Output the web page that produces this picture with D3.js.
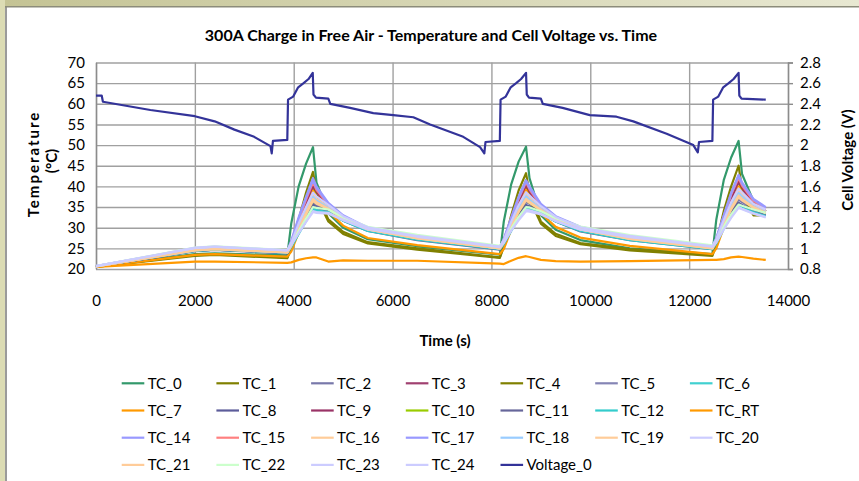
<html>
<head>
<script src="https://cdn.jsdelivr.net/npm/d3@7"></script>
<style>
  body { margin: 0; background: #fff; }
  svg text { font-family: Lato, "Open Sans", sans-serif; fill: #000; }
</style>
</head>
<body>
<svg id="chart" width="859" height="481"></svg>
<script>
// ---- data ----
const seriesNames = ["TC_0", "TC_1", "TC_2", "TC_3", "TC_4", "TC_5", "TC_6",
  "TC_7", "TC_8", "TC_9", "TC_10", "TC_11", "TC_12", "TC_RT",
  "TC_14", "TC_15", "TC_16", "TC_17", "TC_18", "TC_19", "TC_20",
  "TC_21", "TC_22", "TC_23", "TC_24"];
const seriesColors = ["#33996b", "#808000", "#7878aa", "#a04070", "#808000", "#8585b5", "#40d0d0",
  "#ff9900", "#5c5c9a", "#993366", "#99cc00", "#66669a", "#33cccc", "#ff9900",
  "#9999ff", "#ff8080", "#ffcc99", "#9999ff", "#99ccff", "#ffcc99", "#ccccff",
  "#ffcc99", "#ccffcc", "#ccccff", "#ccccff"];

// time (s) for the thermocouple readings
const tempTimes = [0, 2000, 2400, 3870, 3950, 4100, 4250, 4390, 4460, 4700, 5000, 5500, 6500, 8170,
  8250, 8400, 8550, 8700, 8770, 9000, 9300, 9800, 10800, 12470,
  12550, 12700, 12850, 13000, 13070, 13300, 13550];

const TC_0  = [20.6, 23.6, 23.8, 23.3, 31.0, 40.0, 45.5, 49.5, 41.0, 33.5, 30.0, 27.2, 25.5, 23.5, 31.5, 40.5, 46.0, 49.6, 42.0, 33.0, 29.5, 27.0, 25.0, 23.6, 32.0, 41.5, 47.0, 51.0, 43.0, 36.5, 34.0];
const TC_1  = [20.5, 23.4, 23.6, 22.8, 25.5, 32.0, 38.5, 43.5, 38.5, 32.0, 29.0, 26.5, 25.0, 22.8, 25.8, 33.0, 39.0, 43.2, 38.5, 31.5, 28.5, 26.3, 24.8, 23.4, 26.5, 34.0, 40.0, 45.0, 39.5, 33.5, 33.5];
const TC_2  = [20.6, 24.5, 24.8, 24.0, 25.8, 29.5, 33.0, 36.0, 35.5, 34.5, 32.0, 29.5, 27.3, 24.9, 26.5, 30.0, 33.5, 36.2, 35.8, 34.0, 32.0, 29.5, 27.3, 25.0, 26.8, 30.5, 34.0, 36.8, 36.2, 34.5, 33.5];
const TC_3  = [20.6, 24.6, 24.9, 24.1, 26.2, 31.0, 35.5, 40.0, 38.5, 35.5, 32.5, 29.8, 27.5, 25.0, 26.8, 31.5, 36.0, 40.0, 38.5, 35.0, 32.3, 29.8, 27.4, 25.1, 27.0, 32.0, 37.0, 41.0, 39.5, 36.0, 34.0];
const TC_4  = [20.5, 23.2, 23.4, 22.6, 25.0, 30.5, 36.5, 41.5, 37.5, 31.5, 28.5, 26.2, 24.7, 22.7, 25.3, 31.5, 37.0, 41.5, 37.0, 31.0, 28.0, 26.0, 24.5, 23.2, 25.8, 32.5, 38.0, 42.5, 38.0, 33.0, 33.0];
const TC_5  = [20.6, 24.6, 24.9, 24.0, 25.8, 29.8, 33.5, 37.0, 36.2, 34.8, 32.2, 29.6, 27.4, 25.0, 26.5, 30.5, 34.0, 37.2, 36.5, 34.2, 32.0, 29.6, 27.3, 25.0, 26.8, 31.0, 34.8, 38.0, 37.0, 34.8, 33.8];
const TC_6  = [20.6, 24.4, 24.7, 23.9, 25.5, 29.0, 32.0, 35.0, 34.6, 34.0, 31.8, 29.3, 27.2, 24.8, 26.2, 29.5, 32.5, 35.0, 34.8, 33.5, 31.6, 29.2, 27.1, 24.9, 26.5, 30.0, 33.0, 35.5, 35.0, 34.0, 33.0];
const TC_7  = [20.5, 23.4, 23.6, 23.0, 24.2, 28.8, 34.0, 39.0, 37.5, 34.0, 30.5, 27.5, 25.8, 23.6, 24.8, 29.5, 34.5, 39.2, 37.5, 33.5, 30.2, 27.6, 25.6, 23.6, 25.0, 30.0, 35.5, 40.0, 38.5, 35.0, 34.0];
const TC_8  = [20.6, 24.4, 24.7, 23.9, 25.5, 29.2, 32.5, 35.5, 35.0, 34.2, 31.9, 29.4, 27.2, 24.8, 26.3, 29.8, 33.0, 35.5, 35.2, 33.8, 31.7, 29.3, 27.1, 24.9, 26.5, 30.3, 33.5, 36.0, 35.5, 34.2, 33.3];
const TC_9  = [20.6, 24.5, 24.8, 24.0, 26.0, 31.0, 36.0, 40.5, 38.8, 35.5, 32.5, 29.7, 27.4, 25.0, 26.8, 31.5, 36.5, 40.5, 38.8, 35.0, 32.2, 29.7, 27.3, 25.0, 27.0, 32.0, 37.0, 41.5, 39.8, 36.0, 34.0];
const TC_10 = [20.6, 24.6, 24.9, 24.1, 25.8, 29.5, 33.3, 36.5, 35.9, 34.6, 32.2, 29.6, 27.4, 25.0, 26.5, 30.2, 33.8, 36.7, 36.0, 34.2, 32.0, 29.6, 27.3, 25.1, 26.8, 30.8, 34.5, 37.5, 36.8, 34.8, 33.6];
const TC_11 = [20.6, 24.3, 24.6, 23.8, 25.4, 28.8, 32.0, 35.2, 34.8, 34.0, 31.7, 29.2, 27.0, 24.7, 26.1, 29.5, 32.6, 35.3, 35.0, 33.6, 31.5, 29.1, 27.0, 24.8, 26.4, 30.0, 33.2, 36.0, 35.4, 34.0, 33.0];
const TC_12 = [20.6, 24.4, 24.7, 23.9, 25.3, 28.5, 31.6, 34.5, 34.2, 33.8, 31.7, 29.2, 27.1, 24.8, 26.0, 29.2, 32.2, 34.7, 34.5, 33.5, 31.5, 29.2, 27.0, 24.8, 26.2, 29.7, 32.8, 35.2, 34.8, 33.8, 32.8];
const TC_RT = [20.5, 21.8, 21.8, 21.5, 21.6, 22.2, 22.6, 22.8, 22.8, 21.8, 22.1, 22.0, 22.0, 21.3, 21.2, 22.0, 22.7, 23.1, 22.9, 22.2, 21.9, 21.8, 21.9, 22.2, 22.2, 22.4, 22.8, 23.0, 22.9, 22.5, 22.2];
const TC_14 = [20.7, 25.0, 25.3, 24.4, 26.8, 32.5, 37.5, 42.0, 40.0, 36.0, 33.0, 30.0, 27.9, 25.3, 27.3, 32.5, 37.5, 41.5, 40.0, 35.8, 32.8, 30.2, 27.9, 25.5, 27.5, 33.0, 38.5, 42.8, 41.0, 37.0, 35.0];
const TC_15 = [20.6, 24.7, 25.0, 24.2, 26.4, 31.8, 36.8, 41.0, 39.2, 35.6, 32.6, 29.8, 27.6, 25.1, 27.0, 32.0, 37.0, 41.0, 39.3, 35.3, 32.4, 29.8, 27.6, 25.3, 27.2, 32.5, 38.0, 42.0, 40.2, 36.5, 34.6];
const TC_16 = [20.6, 24.6, 24.9, 24.1, 25.9, 30.2, 34.5, 38.0, 37.0, 35.0, 32.3, 29.7, 27.5, 25.0, 26.6, 30.8, 35.0, 38.2, 37.2, 34.6, 32.1, 29.7, 27.4, 25.1, 26.9, 31.3, 35.8, 39.0, 38.0, 35.4, 34.0];
const TC_17 = [20.7, 24.9, 25.2, 24.3, 26.6, 32.2, 37.2, 41.5, 39.6, 35.8, 32.8, 30.0, 27.8, 25.2, 27.2, 32.2, 37.2, 41.3, 39.6, 35.6, 32.6, 30.0, 27.8, 25.4, 27.4, 32.8, 38.2, 42.5, 40.6, 36.8, 34.8];
const TC_18 = [20.6, 24.6, 24.9, 24.0, 25.8, 30.0, 34.0, 37.5, 36.6, 34.8, 32.3, 29.7, 27.5, 25.0, 26.5, 30.6, 34.5, 37.6, 36.8, 34.5, 32.1, 29.7, 27.4, 25.1, 26.8, 31.0, 35.2, 38.4, 37.6, 35.2, 33.8];
const TC_19 = [20.6, 24.5, 24.8, 24.0, 25.7, 29.8, 33.6, 37.0, 36.2, 34.6, 32.2, 29.6, 27.4, 25.0, 26.4, 30.4, 34.0, 37.0, 36.3, 34.3, 32.0, 29.6, 27.3, 25.0, 26.7, 30.8, 34.8, 37.8, 37.0, 35.0, 33.6];
const TC_20 = [20.7, 25.0, 25.3, 24.4, 25.8, 28.8, 31.6, 34.0, 33.8, 33.6, 31.8, 29.5, 27.6, 25.2, 26.4, 29.4, 32.0, 34.3, 34.2, 33.4, 31.6, 29.5, 27.6, 25.3, 26.5, 29.8, 32.6, 35.0, 34.6, 33.5, 32.6];
const TC_21 = [20.6, 24.5, 24.8, 24.0, 25.6, 29.5, 33.2, 36.5, 35.8, 34.5, 32.1, 29.6, 27.4, 25.0, 26.4, 30.2, 33.8, 36.6, 36.0, 34.2, 32.0, 29.6, 27.3, 25.0, 26.6, 30.6, 34.4, 37.4, 36.6, 34.8, 33.5];
const TC_22 = [20.7, 25.2, 25.5, 24.6, 26.0, 29.2, 32.2, 35.0, 34.8, 34.4, 32.5, 30.2, 28.3, 25.6, 26.8, 29.8, 32.6, 35.0, 34.9, 34.0, 32.3, 30.3, 28.2, 25.7, 27.0, 30.3, 33.2, 35.6, 35.3, 34.4, 33.6];
const TC_23 = [20.7, 25.1, 25.4, 24.5, 26.4, 31.0, 35.0, 38.5, 37.6, 35.5, 32.8, 30.1, 28.0, 25.4, 27.0, 31.4, 35.5, 38.6, 37.8, 35.2, 32.6, 30.1, 28.0, 25.5, 27.2, 31.8, 36.2, 39.5, 38.6, 35.8, 34.4];
const TC_24 = [20.7, 25.1, 25.4, 24.5, 25.8, 28.7, 31.4, 33.8, 33.6, 33.4, 31.9, 29.7, 27.8, 25.3, 26.4, 29.3, 31.8, 34.0, 33.9, 33.2, 31.7, 29.6, 27.7, 25.4, 26.5, 29.6, 32.4, 34.8, 34.5, 33.4, 32.5];

const tempSeries = [TC_0, TC_1, TC_2, TC_3, TC_4, TC_5, TC_6, TC_7, TC_8, TC_9, TC_10, TC_11, TC_12, TC_RT,
  TC_14, TC_15, TC_16, TC_17, TC_18, TC_19, TC_20, TC_21, TC_22, TC_23, TC_24];

// cell voltage, right axis
const voltTimes = [0, 115, 140, 1100, 2000, 2400, 2800, 3200, 3530, 3555, 3580, 3870, 3885, 3990, 4090, 4200, 4300, 4385,
  4400, 4450, 4700, 4740, 5140, 5610, 6015, 6420, 6760, 7430, 7770, 7856, 7880, 8170, 8185, 8290, 8390, 8500, 8600, 8700,
  8715, 8760, 9000, 9040, 9440, 9990, 10530, 10870, 11545, 12084, 12175, 12200, 12470, 12485, 12590, 12690, 12800, 12900, 13000,
  13015, 13060, 13550];
const voltValues = [2.48, 2.48, 2.42, 2.34, 2.28, 2.23, 2.15, 2.08, 1.99, 1.92, 2.04, 2.05, 2.44, 2.47, 2.56, 2.60, 2.64, 2.70,
  2.49, 2.46, 2.45, 2.40, 2.36, 2.31, 2.29, 2.27, 2.20, 2.08, 1.98, 1.92, 2.03, 2.04, 2.44, 2.47, 2.56, 2.60, 2.64, 2.70,
  2.49, 2.46, 2.45, 2.40, 2.36, 2.29, 2.275, 2.23, 2.11, 2.00, 1.93, 2.03, 2.04, 2.44, 2.47, 2.56, 2.60, 2.64, 2.70,
  2.48, 2.45, 2.44];

const xTicks = [0, 2000, 4000, 6000, 8000, 10000, 12000, 14000];
const tempTicks = [20, 25, 30, 35, 40, 45, 50, 55, 60, 65, 70];
const voltTicks = [0.8, 1, 1.2, 1.4, 1.6, 1.8, 2, 2.2, 2.4, 2.6, 2.8];

const titleText = "300A Charge in Free Air - Temperature and Cell Voltage vs. Time";

// ---- layout ----
const svg = d3.select("#chart");
const plotL = 96, plotR = 788, plotT = 62.5, plotB = 269;

// window frame around the chart
const defs = svg.append("defs");
const grad = defs.append("linearGradient").attr("id", "topband");
grad.append("stop").attr("offset", "0%").attr("stop-color", "#c4c394");
grad.append("stop").attr("offset", "100%").attr("stop-color", "#e8e8d2");
svg.append("rect").attr("x", 0).attr("y", 0).attr("width", 859).attr("height", 7).attr("fill", "url(#topband)");
svg.append("rect").attr("x", 0).attr("y", 0).attr("width", 5).attr("height", 481).attr("fill", "#dcdcb4");
svg.append("rect").attr("x", 5).attr("y", 6).attr("width", 2).attr("height", 475).attr("fill", "#9b9b9b");
svg.append("rect").attr("x", 5).attr("y", 6).attr("width", 854).attr("height", 1.5).attr("fill", "#8c8c7a");

const x = d3.scaleLinear().domain([0, 14000]).range([plotL, plotR]);
const yT = d3.scaleLinear().domain([20, 70]).range([plotB, plotT]);
const yV = d3.scaleLinear().domain([0.8, 2.8]).range([plotB, plotT]);

// gridlines
svg.append("g")
  .attr("transform", `translate(0,${plotB})`)
  .call(d3.axisBottom(x).tickValues(xTicks).tickSize(-(plotB - plotT)).tickFormat(""))
  .call(g => g.select(".domain").remove())
  .selectAll("line").attr("stroke", "#a0a0a0").attr("stroke-width", 1.4);
svg.append("g")
  .attr("transform", `translate(${plotL},0)`)
  .call(d3.axisLeft(yT).tickValues(tempTicks).tickSize(-(plotR - plotL)).tickFormat(""))
  .call(g => g.select(".domain").remove())
  .selectAll("line").attr("stroke", "#a0a0a0").attr("stroke-width", 1.4);

// axes
const axT = svg.append("g")
  .attr("transform", `translate(${plotL},0)`)
  .call(d3.axisLeft(yT).tickValues(tempTicks).tickSize(0).tickPadding(11));
const axV = svg.append("g")
  .attr("transform", `translate(${plotR},0)`)
  .call(d3.axisRight(yV).tickValues(voltTicks).tickSize(5).tickPadding(7).tickFormat(d3.format("")));
const axX = svg.append("g")
  .attr("transform", `translate(0,${plotB})`)
  .call(d3.axisBottom(x).tickValues(xTicks).tickSize(0).tickPadding(26).tickFormat(d3.format("")));
[axT, axV, axX].forEach(a => {
  a.selectAll("text").attr("font-size", 15).attr("font-family", "Lato, sans-serif").attr("fill", "#000");
  a.selectAll("line").attr("stroke", "#8c8c8c").attr("stroke-width", 1.4);
  a.select(".domain").attr("stroke", "#8c8c8c").attr("stroke-width", 1.4);
});
axX.select(".domain").remove();

// temperature lines
const tempLine = d3.line().x((d, i) => x(tempTimes[i])).y(d => yT(d));
svg.append("g").selectAll("path")
  .data(tempSeries)
  .join("path")
    .attr("d", tempLine)
    .attr("fill", "none")
    .attr("stroke", (d, i) => seriesColors[i])
    .attr("stroke-width", 2.2)
    .attr("stroke-linejoin", "round");

// voltage line
const voltLine = d3.line().x((d, i) => x(voltTimes[i])).y(d => yV(d));
svg.append("path")
  .datum(voltValues)
  .attr("d", voltLine)
  .attr("fill", "none")
  .attr("stroke", "#333399")
  .attr("stroke-width", 2.2)
  .attr("stroke-linejoin", "round");

// titles
svg.append("text")
  .attr("x", 431).attr("y", 41)
  .attr("text-anchor", "middle")
  .attr("font-size", 16).attr("font-weight", "bold")
  .text(titleText);
svg.append("text")
  .attr("x", 445).attr("y", 346)
  .attr("text-anchor", "middle")
  .attr("font-size", 15).attr("font-weight", "bold")
  .text("Time (s)");
svg.append("text")
  .attr("transform", "translate(39,164) rotate(-90)")
  .attr("text-anchor", "middle")
  .attr("font-size", 15).attr("font-weight", "bold")
  .attr("letter-spacing", 2)
  .text("Temperature");
svg.append("text")
  .attr("transform", "translate(57,161) rotate(-90)")
  .attr("text-anchor", "middle")
  .attr("font-size", 15).attr("font-weight", "bold")
  .text("(°C)");
svg.append("text")
  .attr("transform", "translate(853,160) rotate(-90)")
  .attr("text-anchor", "middle")
  .attr("font-size", 15).attr("font-weight", "bold")
  .text("Cell Voltage (V)");

// legend, 7 columns
const legendNames = seriesNames.concat(["Voltage_0"]);
const legendColors = seriesColors.concat(["#333399"]);
const legend = svg.append("g").selectAll("g")
  .data(legendNames)
  .join("g")
    .attr("transform", (d, i) => `translate(${121.7 + (i % 7) * 94.7},${383.3 + Math.floor(i / 7) * 27.2})`);
legend.append("line")
  .attr("x1", 0).attr("x2", 22.6)
  .attr("stroke", (d, i) => legendColors[i])
  .attr("stroke-width", 2.2);
legend.append("text")
  .attr("x", 26).attr("dy", "0.35em")
  .attr("font-size", 15)
  .text(d => d);
</script>
</body>
</html>
